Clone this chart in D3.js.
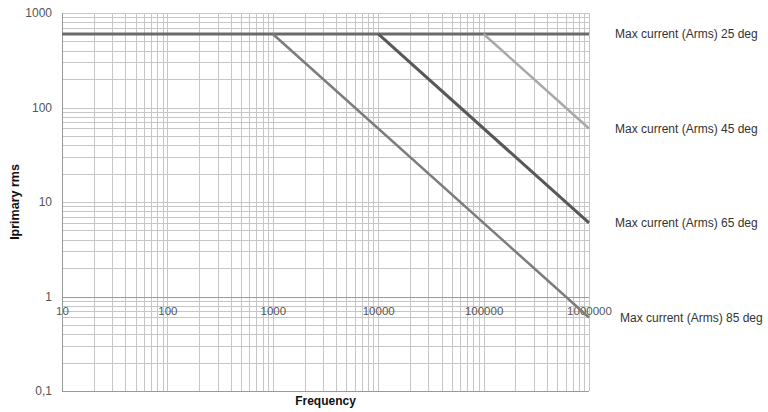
<!DOCTYPE html>
<html>
<head>
<meta charset="utf-8">
<script src="https://cdn.jsdelivr.net/npm/d3@7"></script>
<style>
  html, body { margin: 0; padding: 0; background: #fff; }
  svg { display: block; font-family: "Liberation Sans", Arial, sans-serif; }
</style>
</head>
<body>
<svg id="chart" width="768" height="412"></svg>
<script>
// Frequency axis decades and current axis decades
const xTickValues = [10, 100, 1000, 10000, 100000, 1000000];
const yTickValues = [0.1, 1, 10, 100, 1000];
const yTickLabels = ["0,1", "1", "10", "100", "1000"];

// Derating curves: [frequency, current]
const seriesNames = [
  "Max current (Arms) 25 deg",
  "Max current (Arms) 45 deg",
  "Max current (Arms) 65 deg",
  "Max current (Arms) 85 deg"
];
const current25 = [[10, 600], [1000000, 600]];
const current45 = [[1000, 600], [1000000, 0.6]];
const current65 = [[10000, 600], [1000000, 6]];
const current85 = [[100000, 600], [1000000, 60]];
const seriesColors = ["#6a6a6a", "#7c7c7c", "#585858", "#a8a8a8"];
const seriesWidths = [3, 2.5, 3, 2.5];

const svg = d3.select("#chart");
const margin = { left: 62, top: 13, right: 179, bottom: 21 };
const W = 768, H = 412;

const x = d3.scaleLog().domain([10, 1000000]).range([margin.left, W - margin.right]);
const y = d3.scaleLog().domain([0.1, 1000]).range([H - margin.bottom, margin.top]);

// minor + major grid values
const xGrid = [];
for (let d = 10; d < 1000000; d *= 10) for (let k = 1; k <= 9; k++) xGrid.push(d * k);
xGrid.push(1000000);
const yGrid = [];
for (let d = 0.1; d < 1000; d *= 10) for (let k = 1; k <= 9; k++) yGrid.push(+(d * k).toPrecision(6));
yGrid.push(1000);

const grid = svg.append("g").attr("stroke", "#c6c6c6").attr("stroke-width", 1).attr("shape-rendering", "crispEdges");
grid.selectAll("line.v").data(xGrid).join("line").attr("class", "v")
  .attr("x1", d => Math.round(x(d)) + 0.5).attr("x2", d => Math.round(x(d)) + 0.5)
  .attr("y1", y(1000)).attr("y2", y(0.1));
grid.selectAll("line.h").data(yGrid).join("line").attr("class", "h")
  .attr("y1", d => Math.round(y(d)) + 0.5).attr("y2", d => Math.round(y(d)) + 0.5)
  .attr("x1", x(10)).attr("x2", x(1000000));

// axis lines: left edge, bottom edge and the x axis crossing at 1
svg.append("g").attr("stroke", "#9a9a9a").attr("shape-rendering", "crispEdges")
  .call(g => {
    g.append("line").attr("x1", Math.round(x(10)) + 0.5).attr("x2", Math.round(x(10)) + 0.5).attr("y1", y(1000)).attr("y2", y(0.1));
    g.append("line").attr("x1", x(10)).attr("x2", x(1000000)).attr("y1", Math.round(y(0.1)) + 0.5).attr("y2", Math.round(y(0.1)) + 0.5);
    g.append("line").attr("x1", x(10)).attr("x2", x(1000000)).attr("y1", Math.round(y(1)) + 0.5).attr("y2", Math.round(y(1)) + 0.5);
  });

// Y tick labels
const yAxis = d3.axisLeft(y).tickValues(yTickValues)
  .tickFormat((d, i) => yTickLabels[i]).tickSize(0).tickPadding(10);
svg.append("g").attr("transform", `translate(${x(10)},0)`).call(yAxis)
  .call(g => g.select(".domain").remove())
  .selectAll("text").attr("font-size", 12).attr("fill", "#555").attr("font-family", "Liberation Sans, Arial, sans-serif");

// X tick labels sit just below the line at current = 1
const xAxis = d3.axisBottom(x).tickValues(xTickValues).tickFormat(d3.format("d")).tickSize(0).tickPadding(10);
svg.append("g").attr("transform", `translate(0,${y(1)})`).call(xAxis)
  .call(g => g.select(".domain").remove())
  .selectAll("text").attr("font-size", 11.5).attr("fill", "#555").attr("font-family", "Liberation Sans, Arial, sans-serif");

// Curves
const line = d3.line().x(d => x(d[0])).y(d => y(d[1]));
const allSeries = [current25, current45, current65, current85];
svg.append("g").selectAll("path").data(allSeries).join("path")
  .attr("d", line).attr("fill", "none")
  .attr("stroke", (d, i) => seriesColors[i])
  .attr("stroke-width", (d, i) => seriesWidths[i]);

// Series labels on the right
const labelPos = [[615, 600], [615, 60], [615, 6], [620, 0.6]];
svg.append("g").selectAll("text").data(seriesNames).join("text")
  .attr("x", (d, i) => labelPos[i][0])
  .attr("y", (d, i) => y(labelPos[i][1]))
  .attr("dy", "0.35em")
  .attr("font-size", 12).attr("fill", "#333")
  .text(d => d);

// Axis titles
svg.append("text").attr("x", (x(10) + x(1000000)) / 2).attr("y", 405)
  .attr("text-anchor", "middle").attr("font-size", 12).attr("font-weight", "bold").attr("fill", "#111")
  .text("Frequency");
svg.append("text")
  .attr("transform", `translate(19,${(y(1000) + y(0.1)) / 2}) rotate(-90)`)
  .attr("text-anchor", "middle").attr("font-size", 12.5).attr("font-weight", "bold").attr("fill", "#111")
  .text("Iprimary rms");
</script>
</body>
</html>
